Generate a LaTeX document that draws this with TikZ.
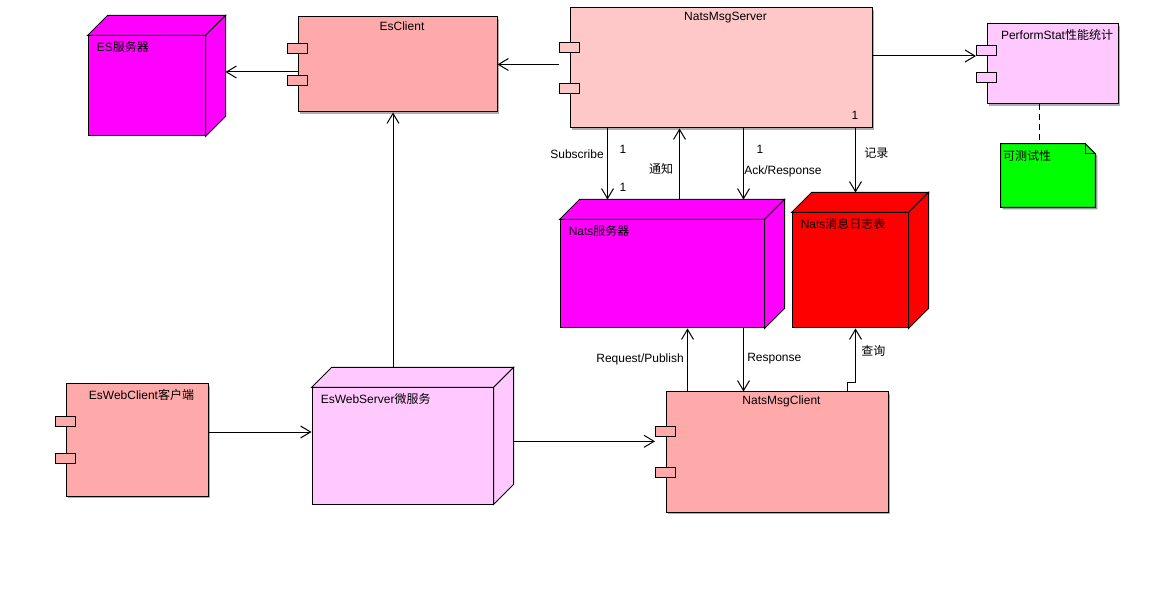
\documentclass[tikz,border=0pt]{standalone}
\usepackage{fontspec}
\setmainfont{Liberation Sans}
\newfontfamily\cjk{Noto Sans CJK SC}
\usetikzlibrary{arrows.meta,calc,fit,shadows}
\definecolor{UmlSalmon}{HTML}{FFAAAA}
\definecolor{UmlRose}{HTML}{FFC8C8}
\definecolor{UmlLilac}{HTML}{FFC8FF}
\definecolor{UmlMagenta}{HTML}{FF00FF}
\definecolor{UmlRed}{HTML}{FF0000}
\definecolor{UmlGreen}{HTML}{00FF00}
\definecolor{UmlShadow}{HTML}{9A9A9A}
\tikzset{
  uml/box/.style={
    draw=black, line width=.75pt, inner sep=0pt,
    drop shadow={shadow xshift=1.5pt,shadow yshift=-1.5pt,fill=UmlShadow,opacity=.8}
  },
  uml/front/.style={draw=black, line width=.75pt, inner sep=0pt},
  uml/face/.style={draw=black, line width=.75pt, line join=miter},
  uml/port/.style={
    draw=black, line width=.75pt, inner sep=0pt,
    minimum width=15pt, minimum height=7.5pt
  },
  uml/title/.style={font=\fontsize{9}{11}\selectfont, inner sep=0pt},
  uml/lab/.style={font=\fontsize{9}{11}\selectfont, inner sep=0pt},
  uml/arrow/.style={
    -{Straight Barb[length=7.5pt,width=9pt]}, line width=.75pt, draw=black
  },
  uml/link/.style={line width=.75pt, draw=black, dashed, dash pattern=on 4.5pt off 3pt}
}

\begin{document}
\begin{tikzpicture}[x=0.75pt,y=-0.75pt]
  \fill[white] (0,0) rectangle (1174,616);
  % deployment nodes (front faces)
  \node[uml/front, fill=UmlMagenta, fit={(88,36) (205,136)}] (es) {};
  \node[uml/front, fill=UmlMagenta, fit={(560,220) (764,328)}] (nats) {};
  \node[uml/front, fill=UmlRed, fit={(792,213) (908,328)}] (natslog) {};
  \node[uml/front, fill=UmlLilac, fit={(312,388) (493,504)}] (web) {};
  \foreach \n/\c in {es/UmlMagenta,nats/UmlMagenta,natslog/UmlRed,web/UmlLilac} {
    \draw[uml/face, fill=\c] (\n.north west) -- ++(20,-20)
      -- ($(\n.north east)+(20,-20)$) -- (\n.north east) -- cycle;
    \draw[uml/face, fill=\c] (\n.north east) -- ++(20,-20)
      -- ($(\n.south east)+(20,-20)$) -- (\n.south east) -- cycle;
    \coordinate (\n-top) at ($(\n.north)+(20,-20)$);
    \coordinate (\n-side) at ($(\n.east)+(20,-20)$);
  }
  \node[uml/title, anchor=west] (es-t) at ($(es.north west)+(9,11)$) {ES{\cjk 服务器}};
  \node[uml/title, anchor=west] (nats-t) at ($(nats.north west)+(9,11)$) {Nats{\cjk 服务器}};
  \node[uml/title, anchor=west] (natslog-t) at ($(natslog.north west)+(9,11)$) {Nats{\cjk 消息日志表}};
  \node[uml/title, anchor=west] (web-t) at ($(web.north west)+(9,11)$) {EsWebServer{\cjk 微服务}};

  % components
  \node[uml/box, fill=UmlSalmon, fit={(298,17) (497,112)}] (esclient) {};
  \node[uml/box, fill=UmlRose, fit={(570,8) (872,128)}] (server) {};
  \node[uml/box, fill=UmlLilac, fit={(987,24) (1118,104)}] (perf) {};
  \node[uml/box, fill=UmlSalmon, fit={(66,384) (208,496)}] (webclient) {};
  \node[uml/box, fill=UmlSalmon, fit={(666,392) (888,512)}] (client) {};
  \foreach \n/\c in {esclient/UmlSalmon,server/UmlRose,perf/UmlLilac,webclient/UmlSalmon,client/UmlSalmon}
    \foreach \k/\f in {1/0.3333,2/0.6667}
      \node[uml/port, fill=\c] (\n-p\k) at ($(\n.north west)!\f!(\n.south west)$) {};
  \node[uml/title] (esclient-t) at ($(esclient.north)+(4.5,10)$) {EsClient};
  \node[uml/title] (server-t) at ($(server.north)+(4.5,10)$) {NatsMsgServer};
  \node[uml/title] (perf-t) at ($(perf.north)+(4.5,11)$) {PerformStat{\cjk 性能统计}};
  \node[uml/title] (webclient-t) at ($(webclient.north)+(4.5,11)$) {EsWebClient{\cjk 客户端}};
  \node[uml/title] (client-t) at ($(client.north)+(4.5,10)$) {NatsMsgClient};
  \node[uml/lab] (server-n) at (855,115) {1};

  % note
  \node[inner sep=0pt, fit={(1001,144) (1095,207)}] (note) {};
  \fill[UmlShadow] ($(note.north west)+(2,2)$) -- ($(note.north east)+(-8,2)$)
    -- ($(note.north east)+(2,12)$) -- ($(note.south east)+(2,2)$)
    -- ($(note.south west)+(2,2)$) -- cycle;
  \draw[uml/face, fill=UmlGreen] (note.north west) -- ($(note.north east)+(-10,0)$)
    -- ($(note.north east)+(0,10)$) -- (note.south east) -- (note.south west) -- cycle;
  \draw[uml/face] ($(note.north east)+(-10,0)$) -- ($(note.north east)+(-10,10)$)
    -- ($(note.north east)+(0,10)$);
  \node[uml/title, anchor=west] (note-t) at ($(note.north west)+(2,12)$) {\cjk 可测试性};

  % connectors
  \coordinate (esc-out) at ($(esclient.west)+(0,7.5)$);
  \draw[uml/arrow] (esc-out) -- (esc-out -| es-side);
  \draw[uml/arrow] (esclient.east -| server-p1.west) -- (esclient.east);
  \draw[uml/arrow] (server.east |- perf-p1.south) -- (perf-p1.south west);
  \coordinate (perf-note) at ($(perf.south west)+(53,0)$);
  \draw[uml/link] (perf-note) -- (perf-note |- note.north);

  \coordinate (sub) at ($(server.south west)+(38,0)$);
  \draw[uml/arrow] (sub) -- (sub |- nats-top);
  \coordinate (notify) at ($(server.south west)+(110,0)$);
  \draw[uml/arrow] (notify |- nats-top) -- (notify);
  \coordinate (ack) at ($(server.south west)+(174,0)$);
  \draw[uml/arrow] (ack) -- (ack |- nats-top);
  \coordinate (rec) at ($(server.south west)+(286,0)$);
  \draw[uml/arrow] (rec) -- (rec |- natslog-top);

  \coordinate (req) at ($(client.north west)+(22,0)$);
  \draw[uml/arrow] (req) -- (req |- nats.south);
  \coordinate (resp) at ($(client.north west)+(78,0)$);
  \draw[uml/arrow] (resp |- nats.south) -- (resp);
  \coordinate (query) at ($(client.north west)+(182,0)$);
  \coordinate (query-up) at ($(natslog.south west)+(64,0)$);
  \draw[uml/arrow] (query) -- ++(0,-9) -| (query-up);

  \coordinate (wc-out) at ($(webclient.east)+(0,-8)$);
  \draw[uml/arrow] (wc-out) -- (wc-out -| web.west);
  \coordinate (cl-in) at ($(client-p1.south west)+(0,4)$);
  \draw[uml/arrow] (cl-in -| web-side) -- (cl-in);
  \coordinate (esc-in) at ($(esclient.south)+(-4.5,0)$);
  \draw[uml/arrow] (esc-in |- web-top) -- (esc-in);

  % connector labels
  \node[uml/lab, anchor=east] (l-sub) at (604,154) {Subscribe};
  \node[uml/lab] (l-sub-a) at (623,149) {1};
  \node[uml/lab] (l-sub-b) at (623,187) {1};
  \node[uml/lab] (l-notify) at (661,169) {\cjk 通知};
  \node[uml/lab] (l-ack-a) at (760,149) {1};
  \node[uml/lab, anchor=west] (l-ack) at (744,171) {Ack/Response};
  \node[uml/lab, anchor=west] (l-rec) at (864,153) {\cjk 记录};
  \node[uml/lab, anchor=east] (l-req) at (684,359) {Request/Publish};
  \node[uml/lab, anchor=west] (l-resp) at (747,359) {Response};
  \node[uml/lab, anchor=west] (l-query) at (861,351) {\cjk 查询};
\end{tikzpicture}
\end{document}
